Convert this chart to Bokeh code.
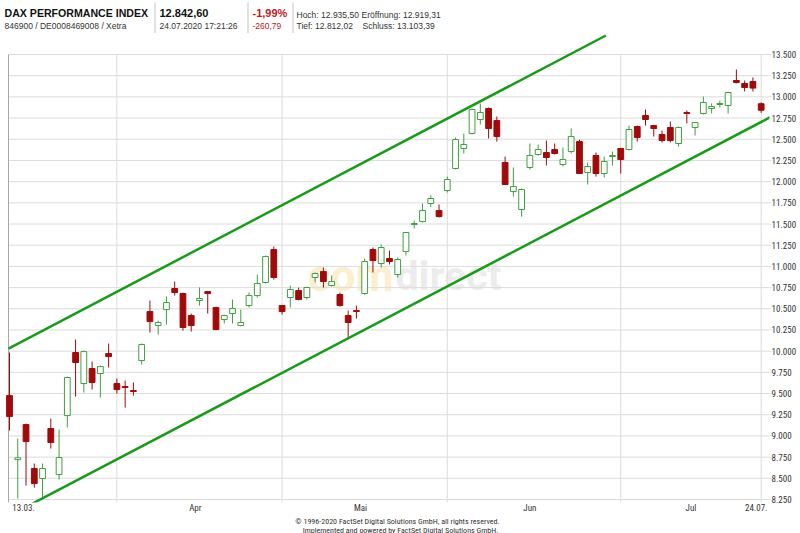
import subprocess
import pandas as pd
from bokeh.plotting import figure
from bokeh.layouts import column
from bokeh.models import Range1d, FixedTicker, ColumnDataSource
from bokeh.core.properties import value
from bokeh.embed import file_html
from bokeh.resources import INLINE

# ---------------- data ----------------
holidays = ["2020-04-10", "2020-04-13", "2020-05-01", "2020-06-01"]
trading_days = [d for d in pd.bdate_range("2020-03-13", "2020-07-24")
                if d.strftime("%Y-%m-%d") not in holidays]

open_ = [9476, 8720, 9134, 8615, 8497, 9087, 8544, 9240, 9984, 9618, 9795, 9736, 9972,
         9618, 9582, 9535, 9889, 10467, 10302, 10491, 10739, 10680, 10420, 10597, 10703,
         10515, 10373, 10444, 10302, 10538, 10656, 10810, 11199,
         10538, 10633, 10715, 10633, 10869, 10939, 10774, 10668, 10420, 10479, 10680, 11199,
         11034, 11093, 10904, 11175, 11494, 11529, 11742, 11659,
         11895, 12155, 12391, 12568, 12733, 12863, 12721, 12226, 11883, 11671, 12167, 12320,
         12344, 12379, 12202, 12355, 12473, 12108, 12308, 12096, 12296,
         12391, 12379, 12650, 12780, 12662, 12556, 12639, 12450, 12816, 12639, 12804, 12863,
         12910, 12898, 13193, 13158, 13181, 12919.31]
high = [9984, 8969, 9146, 8674, 8674, 9205, 9075, 9700, 10137, 10007, 9877, 9830, 10090,
        9677, 9653, 9630, 10090, 10597, 10361, 10644, 10821, 10690, 10444, 10751, 10710,
        10525, 10430, 10609, 10491, 10692, 10904, 11128, 11234,
        10545, 10774, 10750, 10760, 10928, 10987, 10892, 10692, 10479, 10538, 11093, 11223,
        11258, 11187, 11105, 11405, 11541, 11742, 11840, 11730,
        12060, 12521, 12568, 12863, 12922, 12875, 12768, 12296, 12167, 11919, 12450, 12438,
        12485, 12450, 12403, 12627, 12497, 12226, 12344, 12296, 12355,
        12400, 12662, 12662, 12851, 12670, 12603, 12709, 12650, 12839, 12698, 13004, 12922,
        12957, 13063, 13323, 13193, 13229, 12935.50]
low = [9063, 8261, 8414, 8391, 8273, 8851, 8485, 9099, 9464, 9512, 9547, 9453, 9807,
       9500, 9335, 9476, 9842, 10220, 10196, 10314, 10656, 10243, 10231, 10538, 10444,
       10245, 10326, 10326, 10295, 10515, 10633, 10798, 10845,
       10432, 10515, 10600, 10609, 10810, 10751, 10762, 10526, 10161, 10385, 10668, 10928,
       10987, 11022, 10869, 11128, 11447, 11518, 11700, 11577,
       11872, 12143, 12332, 12556, 12674, 12509, 12473, 11960, 11824, 11588, 12143, 12308,
       12190, 12320, 12178, 12332, 12090, 11966, 12060, 12049, 12190,
       12096, 12367, 12473, 12662, 12532, 12462, 12462, 12414, 12686, 12544, 12792, 12804,
       12875, 12804, 13158, 13063, 13063, 12812.02]
close = [9228, 8742, 8933, 8438, 8615, 8922, 8745, 9689, 9866, 9995, 9630, 9818, 9936,
         9547, 9571, 9524, 10078, 10349, 10338, 10574, 10692, 10279, 10302, 10621, 10680,
         10255, 10420, 10503, 10338, 10656, 10798, 11116, 10869,
         10467, 10727, 10609, 10751, 10916, 10821, 10821, 10538, 10338, 10467, 11057, 11069,
         11223, 11057, 11081, 11400, 11506, 11659, 11801, 11588,
         12025, 12497, 12438, 12851, 12816, 12627, 12532, 11966, 11942, 11907, 12308, 12379,
         12285, 12332, 12261, 12532, 12096, 12178, 12096, 12237, 12308,
         12261, 12615, 12521, 12733, 12627, 12485, 12485, 12639, 12804, 12698, 12934, 12886,
         12922, 13052, 13170, 13111, 13103.39, 12842.60]

y_ticks = [8250, 8500, 8750, 9000, 9250, 9500, 9750, 10000, 10250, 10500, 10750, 11000,
           11250, 11500, 11750, 12000, 12250, 12500, 12750, 13000, 13250, 13500]
y_tick_labels = ["8.250", "8.500", "8.750", "9.000", "9.250", "9.500", "9.750", "10.000",
                 "10.250", "10.500", "10.750", "11.000", "11.250", "11.500", "11.750",
                 "12.000", "12.250", "12.500", "12.750", "13.000", "13.250", "13.500"]
month_numbers = [4, 5, 6, 7]
month_names = ["Apr", "Mai", "Jun", "Jul"]
end_labels = ["13.03.", "24.07."]
end_label_pos = [1.7, 90.4]          # label anchor positions on the day axis

# trend channel (drawn by the source chart)
upper_channel_x = [-0.12, 72.2]
upper_channel_y = [10031, 13724]
lower_channel_x = [-0.12, 92.1]
lower_channel_y = [8054, 12760]

header_left = ["DAX PERFORMANCE INDEX", "12.842,60"]
header_sub = ["846900 / DE0008469008 / Xetra", "24.07.2020 17:21:26",
              "Hoch: 12.935,50", "Eröffnung: 12.919,31", "Tief: 12.812,02", "Schluss: 13.103,39"]
change_pct = "-1,99%"
change_abs = "-260,79"
footer_lines = ["© 1996-2020 FactSet Digital Solutions GmbH, all rights reserved.",
                "Implemented and powered by FactSet Digital Solutions GmbH."]
watermark = ["com", "direct"]

# ---------------- styles ----------------
RED = "#a00a0a"
GREEN = "#3f9f3f"
CHANNEL = "#1a9a1a"
GRID = "#dcdcdc"
SANS = "Liberation Sans"
try:
    fonts = subprocess.run(["fc-list", ":", "family"], capture_output=True, text=True).stdout
except Exception:
    fonts = ""
NARROW = SANS
for cand in ["Liberation Sans Narrow", "Roboto Condensed", "DejaVu Sans Condensed"]:
    if cand in fonts:
        NARROW = cand
        break
small = "9px" if NARROW != SANS else "8.5px"

idx = list(range(len(trading_days)))
month_centers, month_starts = [], []
for m in month_numbers:
    ids = [i for i, d in enumerate(trading_days) if d.month == m]
    month_centers.append((ids[0] + ids[-1]) / 2)
    month_starts.append(ids[0])
vgrid = month_starts + [idx[-1]]

XB = -0.121                 # left frame line of the chart
X0, X1 = -1.09, 92.01
Y0, Y1 = 8214.6, 13747.8
RIGHT = 31

# ---------------- header ----------------
hdr = figure(width=800, height=33, output_backend="svg", toolbar_location=None,
             x_range=Range1d(0, 800 - RIGHT), y_range=Range1d(33, 0),
             x_axis_type=None, y_axis_type=None,
             min_border_left=0, min_border_right=RIGHT, min_border_top=0, min_border_bottom=0,
             outline_line_color=None, background_fill_color="white", border_fill_color="white")
hdr.grid.visible = False
hdr.text(x=[4], y=[12], text=header_left[:1], text_font=value(SANS),
         text_font_style="bold", text_font_size="10.6px", text_color="#111111",
         text_baseline="middle", text_align="left")
hdr.text(x=[159], y=[12], text=header_left[1:], text_font=value(SANS),
         text_font_style="bold", text_font_size="11px", text_color="#111111",
         text_baseline="middle", text_align="left")
hdr.text(x=[4, 159, 296, 361, 296, 362], y=[25, 25, 14.5, 14.5, 25, 25], text=header_sub,
         text_font=value(SANS), text_font_size="8.5px", text_color="#333333",
         text_baseline="middle", text_align="left")
hdr.text(x=[252], y=[12], text=[change_pct], text_font=value(SANS), text_font_style="bold",
         text_font_size="11px", text_color="#c0161e", text_baseline="middle", text_align="left")
hdr.text(x=[252], y=[25], text=[change_abs], text_font=value(SANS),
         text_font_size="8.5px", text_color="#c0161e", text_baseline="middle", text_align="left")
hdr.segment(x0=[154.5, 247.5, 292.5], y0=[2, 2, 2], x1=[154.5, 247.5, 292.5], y1=[33, 33, 33],
            line_color="#c4c4c4", line_width=1)

# ---------------- main chart ----------------
p = figure(width=800, height=483, output_backend="svg", toolbar_location=None,
           x_range=Range1d(X0, X1), y_range=Range1d(Y0, Y1),
           y_axis_location="right",
           min_border_left=0, min_border_right=RIGHT, min_border_top=0, min_border_bottom=14,
           outline_line_color=None, background_fill_color="white", border_fill_color="white")

p.grid.visible = False

p.yaxis.ticker = FixedTicker(ticks=y_ticks)
p.yaxis.major_label_overrides = dict(zip(y_ticks, y_tick_labels))
p.yaxis.axis_line_color = None
p.yaxis.major_tick_out = 2
p.yaxis.major_tick_in = 0
p.yaxis.major_tick_line_color = GRID
p.yaxis.minor_tick_line_color = None
p.yaxis.major_label_standoff = 0
p.yaxis.major_label_text_font = NARROW
p.yaxis.major_label_text_font_size = small
p.yaxis.major_label_text_color = "#333333"

xt = [end_label_pos[0]] + month_centers + [end_label_pos[1]]
xl = [end_labels[0]] + month_names + [end_labels[1]]
p.xaxis.ticker = FixedTicker(ticks=xt)
p.xaxis.major_label_overrides = dict(zip(xt, xl))
p.xaxis.axis_line_color = None
p.xaxis.major_tick_out = 0
p.xaxis.major_tick_in = 0
p.xaxis.major_tick_line_color = None
p.xaxis.minor_tick_line_color = None
p.xaxis.major_label_standoff = 0
p.xaxis.major_label_text_font = NARROW
p.xaxis.major_label_text_font_size = small
p.xaxis.major_label_text_color = "#333333"

# watermark behind the data
p.text(x=[46.49], y=[10892], text=watermark[:1], text_font=value("Roboto"),
       text_font_style="bold", text_font_size="44px", text_color="#fbefd0",
       text_baseline="middle", text_align="right")
p.text(x=[46.73], y=[10892], text=watermark[1:], text_font=value("Roboto"),
       text_font_style="bold", text_font_size="41px", text_color="#ececec",
       text_baseline="middle", text_align="left")

# grid lines and left frame
nh = len(y_ticks)
p.segment(x0=[XB] * nh, y0=y_ticks, x1=[X1] * nh, y1=y_ticks, line_color=GRID, line_width=1)
p.segment(x0=vgrid, y0=[Y0] * len(vgrid), x1=vgrid, y1=[y_ticks[-1]] * len(vgrid),
          line_color=GRID, line_width=1)
p.segment(x0=[XB], y0=[Y0], x1=[XB], y1=[y_ticks[-1]], line_color="#a8a8a8", line_width=1)

# candles
is_up = [c >= o for o, c in zip(open_, close)]
src = ColumnDataSource(dict(
    x=idx, high=high, low=low,
    top=[max(o, c) for o, c in zip(open_, close)],
    bottom=[min(o, c) for o, c in zip(open_, close)],
    color=[GREEN if u else RED for u in is_up],
    fill=["white" if u else RED for u in is_up],
))
p.segment(x0="x", y0="high", x1="x", y1="low", line_color="color", line_width=1, source=src)
p.vbar(x="x", width=0.7, top="top", bottom="bottom", fill_color="fill",
       line_color="color", line_width=1, source=src)

# trend channel
p.line(upper_channel_x, upper_channel_y, line_color=CHANNEL, line_width=2.5)
p.line(lower_channel_x, lower_channel_y, line_color=CHANNEL, line_width=2.5)

# ---------------- footer ----------------
ftr = figure(width=800, height=17, output_backend="svg", toolbar_location=None,
             x_range=Range1d(0, 800 - RIGHT), y_range=Range1d(533, 516),
             x_axis_type=None, y_axis_type=None,
             min_border_left=0, min_border_right=RIGHT, min_border_top=0, min_border_bottom=0,
             outline_line_color=None, background_fill_color="white", border_fill_color="white")
ftr.grid.visible = False
ftr.text(x=[397, 400], y=[521, 529.5], text=footer_lines, text_font=value(NARROW),
         text_font_size="8px", text_color="#333333", text_baseline="middle", text_align="center")

layout = column(hdr, p, ftr, spacing=0)
open("out.html", "w").write(file_html(layout, INLINE))
